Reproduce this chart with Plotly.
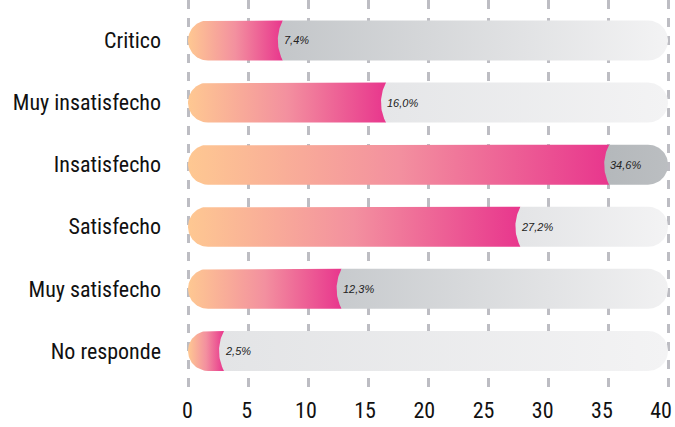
import numpy as np
import plotly.graph_objects as go

# ---------------- data ----------------
categories = ["Critico", "Muy insatisfecho", "Insatisfecho", "Satisfecho", "Muy satisfecho", "No responde"]
values = [7.4, 16.0, 34.6, 27.2, 12.3, 2.5]
value_labels = ["7,4%", "16,0%", "34,6%", "27,2%", "12,3%", "2,5%"]
x_tick_values = [0, 5, 10, 15, 20, 25, 30, 35, 40]
track_max = 40

# ---------------- styles ----------------
PX_PER_X = 12.0        # pixels per x unit
PX_PER_Y = 62.1        # pixels per category row
BAR_H_PX = 40.0
CAP_R_PX = BAR_H_PX / 2
BULGE_PX = 5.0
END_PAD = 0.5          # visual overlap of pink bar under the track cap

PINK_SCALE = [[0, "#FEC892"], [0.5, "#F3909F"], [1, "#E8368D"]]
TRACK_SCALES = [
    [[0, "#C3C6C9"], [1, "#F3F3F4"]],
    [[0, "#E5E6E8"], [1, "#F3F3F4"]],
    [[0, "#B4B8BB"], [1, "#BBBEC1"]],
    [[0, "#E3E4E6"], [1, "#F3F3F4"]],
    [[0, "#C7CACD"], [1, "#F1F1F2"]],
    [[0, "#E3E4E6"], [1, "#F3F3F4"]],
]
GRID_COLOR = "#BDBDC3"
FONT_COND = "Liberation Sans Narrow, Roboto Condensed, DejaVu Sans Condensed, Arial Narrow, sans-serif"

rx = CAP_R_PX / PX_PER_X
ry = CAP_R_PX / PX_PER_Y


def pink_polygon(yc, end):
    xs, ys = [end], [yc - ry]
    th = np.linspace(-np.pi / 2, -3 * np.pi / 2, 40)
    xs += list(rx + rx * np.cos(th))
    ys += list(yc + ry * np.sin(th))
    xs += [end, end]
    ys += [yc + ry, yc - ry]
    return xs, ys


def track_polygon(yc, start, stop):
    R = (CAP_R_PX ** 2 + BULGE_PX ** 2) / (2 * BULGE_PX)
    t = np.linspace(-CAP_R_PX, CAP_R_PX, 30)
    off = -(np.sqrt(R ** 2 - t ** 2) - np.sqrt(R ** 2 - CAP_R_PX ** 2))
    xs = list(start + off / PX_PER_X)
    ys = list(yc + t / PX_PER_Y)
    th = np.linspace(np.pi / 2, -np.pi / 2, 40)
    cx = stop - rx
    xs += list(cx + rx * np.cos(th))
    ys += list(yc + ry * np.sin(th))
    xs.append(xs[0])
    ys.append(ys[0])
    return xs, ys


fig = go.Figure()
annotations = []
for i, (cat, v, lab) in enumerate(zip(categories, values, value_labels)):
    end = v + END_PAD
    px_, py_ = pink_polygon(i, end)
    fig.add_trace(go.Scatter(
        x=px_, y=py_, mode="lines", fill="toself",
        line=dict(width=0, color="rgba(0,0,0,0)"),
        fillgradient=dict(type="horizontal", colorscale=PINK_SCALE),
        hoverinfo="skip", showlegend=False,
    ))
    tx, ty = track_polygon(i, end, track_max)
    fig.add_trace(go.Scatter(
        x=tx, y=ty, mode="lines", fill="toself",
        line=dict(width=0, color="rgba(0,0,0,0)"),
        fillgradient=dict(type="horizontal", colorscale=TRACK_SCALES[i]),
        hoverinfo="skip", showlegend=False,
    ))
    annotations.append(dict(
        x=end, y=i, xref="x", yref="y", text=lab, showarrow=False,
        xanchor="left", yanchor="middle", xshift=-1,
        font=dict(family="Liberation Sans, Arial, sans-serif", size=11, color="#222222", style="italic"),
    ))

# invisible trace so the label axis (x2) gets drawn
fig.add_trace(go.Scatter(
    x=[x_tick_values[0], x_tick_values[-1]], y=[0, 0], xaxis="x2", mode="markers",
    marker=dict(size=1, opacity=0), hoverinfo="skip", showlegend=False,
))

fig.update_layout(
    width=675, height=427,
    margin=dict(l=170, r=1, t=0, b=32, autoexpand=False),
    paper_bgcolor="white", plot_bgcolor="white",
    annotations=annotations,
    xaxis=dict(
        range=[-1.5, 40.5], tickmode="array", tickvals=x_tick_values,
        showgrid=True, gridcolor=GRID_COLOR, gridwidth=3, griddash="9px,9px",
        zeroline=False, showline=False, ticks="", showticklabels=False,
    ),
    xaxis2=dict(
        overlaying="x", side="bottom", anchor="y",
        range=[-1.478, 41.09], tickmode="array", tickvals=x_tick_values,
        ticktext=[str(v) for v in x_tick_values],
        showgrid=False, zeroline=False, showline=False, ticks="",
        ticklabeloverflow="allow",
        tickfont=dict(family=FONT_COND, size=22, color="#111111"),
    ),
    yaxis=dict(
        range=[5.71, -0.652], tickmode="array", tickvals=list(range(len(categories))),
        ticktext=categories, showgrid=False, zeroline=False, showline=False, ticks="",
        ticklabelstandoff=8,
        tickfont=dict(family=FONT_COND, size=22, color="#111111"),
    ),
)

fig.write_html("out.html", post_script="document.body.style.margin='0px';",
               config={"displayModeBar": False})
